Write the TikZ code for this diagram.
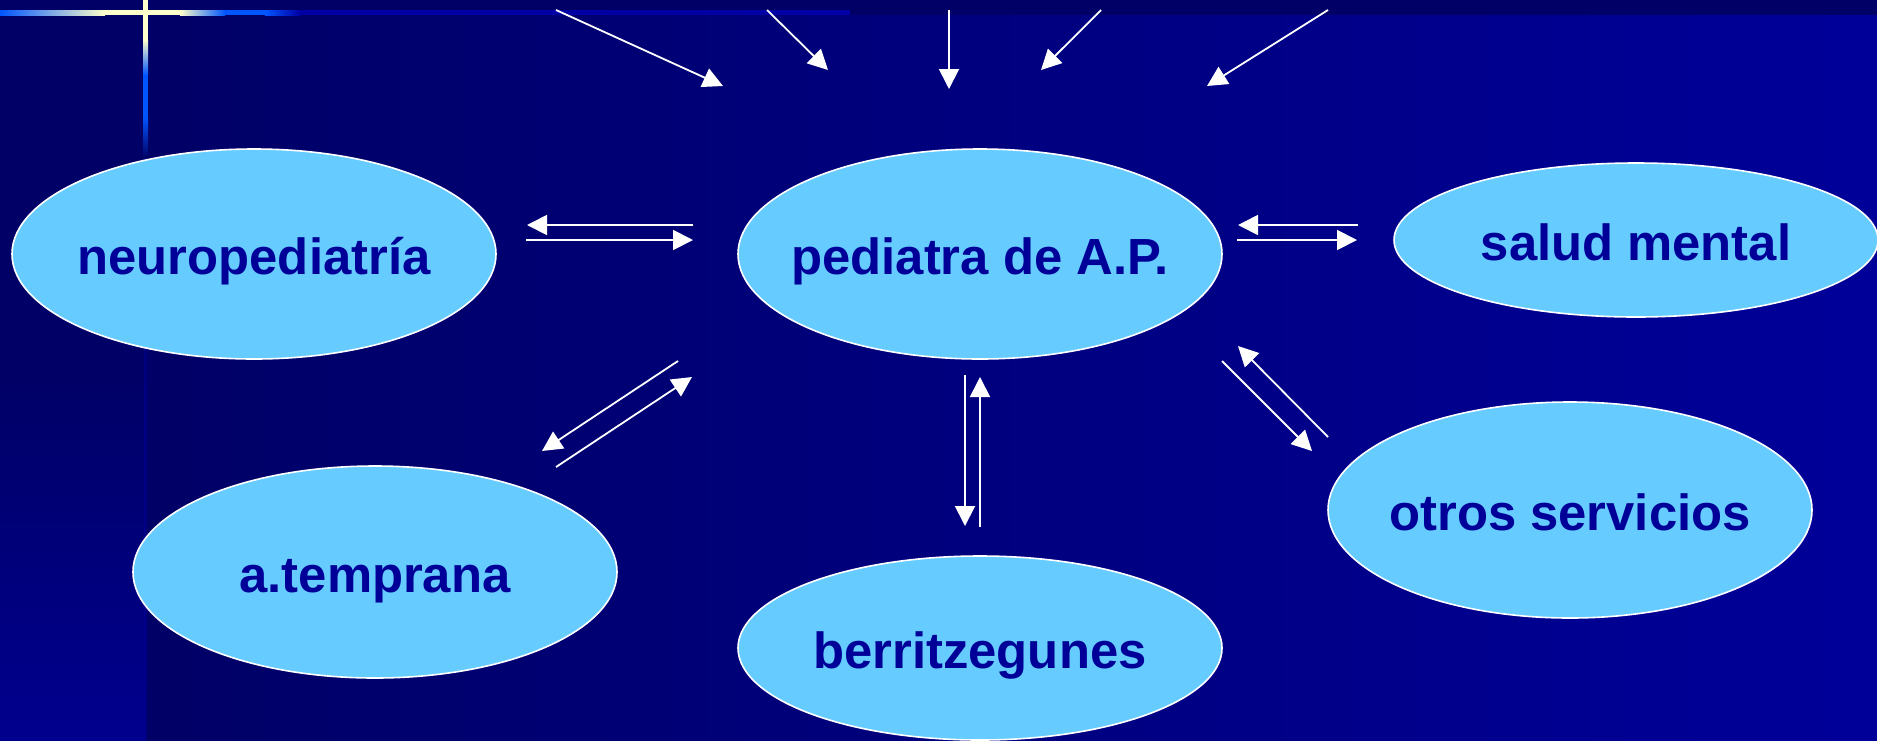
\documentclass[tikz,border=0pt]{standalone}
\usepackage{fontspec}
\setmainfont{Liberation Sans}
\usetikzlibrary{shapes.geometric,arrows.meta}
\definecolor{fondo}{RGB}{0,0,102}
\definecolor{fondoclaro}{RGB}{0,0,153}
\definecolor{franja}{RGB}{0,0,142}
\definecolor{raya}{RGB}{0,0,165}
\definecolor{globo}{RGB}{102,204,255}
\definecolor{letra}{RGB}{0,0,153}
\definecolor{brillo}{RGB}{255,255,204}
\definecolor{azulvivo}{RGB}{0,85,255}
\tikzset{
% ellipses for each service, and the white arrows between them
servicio/.style={ellipse,draw=white,line width=0.8pt,fill=globo,
  inner xsep=-60pt,inner ysep=0pt,text height=20pt,text depth=0pt,
  minimum width=242pt,minimum height=105pt,text=letra,
  font=\fontsize{25.4}{30}\selectfont\bfseries},
flecha/.style={white,line width=0.9pt,-{Triangle[length=10pt,width=10pt]}}
}

\begin{document}
\begin{tikzpicture}[x=0.5pt,y=-0.5pt]
\useasboundingbox (0,0) rectangle (1877,740);
% Background of the slide
\shade[left color=fondo,right color=fondoclaro] (145,0) rectangle (1877,740);
\shade[top color=fondo,bottom color=franja,middle color=fondo] (0,0) rectangle (145,740);
\fill[fondo] (0,0) rectangle (1877,15);
\fill[raya] (300,10) rectangle (850,15);
\shade[left color=azulvivo,right color=brillo] (0,10) rectangle (105,15);
\fill[brillo] (105,10) rectangle (180,15);
\shade[left color=brillo,right color=azulvivo] (180,10) rectangle (225,15);
\fill[azulvivo] (225,10) rectangle (265,15);
\shade[left color=azulvivo,right color=raya] (265,10) rectangle (300,15);
\fill[brillo] (143,0) rectangle (148,40);
\shade[top color=brillo,bottom color=azulvivo] (143,40) rectangle (148,75);
\fill[azulvivo] (143,75) rectangle (148,117);
\shade[top color=azulvivo,bottom color=fondo] (143,117) rectangle (148,158);
\fill[raya,opacity=0.4] (144,158) rectangle (147,740);
% The services
\node[servicio] (neuro) at (254,254) {neuropediatría};
\node[servicio] (pediatra) at (980,254) {pediatra de A.P.};
\node[servicio,minimum height=77pt] (salud) at (1636,240) {salud mental};
\node[servicio,minimum height=106pt] (temprana) at (375,572) {a.temprana};
\node[servicio,minimum height=92pt] (berri) at (980,648) {berritzegunes};
\node[servicio,minimum height=108pt] (otros) at (1570,510) {otros servicios};
% Arrows coming in from above
\foreach \i/\xa/\xb/\yb in {1/556/723/86,2/767/828/70,3/949/949/89,4/1101/1041/70,5/1328/1207/86}{
  \coordinate (arriba\i) at (\xa,10);
  \coordinate (llega\i) at (\xb,\yb);
  \draw[flecha] (arriba\i) -- (llega\i);
}
% Pairs of arrows between pediatra and the others
\coordinate (n1) at (693,225); \coordinate (n2) at (527,225);
\coordinate (n3) at (526,240); \coordinate (n4) at (693,240);
\coordinate (s1) at (1358,225); \coordinate (s2) at (1238,225);
\coordinate (s3) at (1237,240); \coordinate (s4) at (1357,240);
\coordinate (t1) at (678,361); \coordinate (t2) at (542,451);
\coordinate (t3) at (556,467); \coordinate (t4) at (692,377);
\coordinate (b1) at (965,375); \coordinate (b2) at (965,526);
\coordinate (b3) at (980,527); \coordinate (b4) at (980,377);
\coordinate (o1) at (1222,361); \coordinate (o2) at (1312,451);
\coordinate (o3) at (1328,437); \coordinate (o4) at (1238,346);
\foreach \p in {n,s,t,b,o}{
  \draw[flecha] (\p1) -- (\p2);
  \draw[flecha] (\p3) -- (\p4);
}
\end{tikzpicture}
\end{document}
